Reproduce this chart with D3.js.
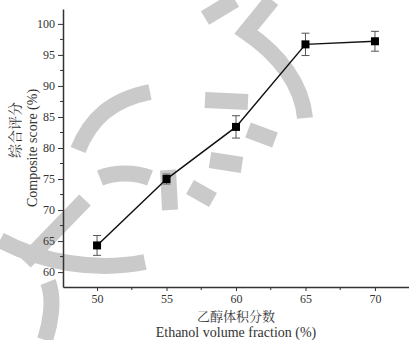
<!DOCTYPE html>
<html>
<head>
<meta charset="utf-8">
<script src="https://cdn.jsdelivr.net/npm/d3@7"></script>
<style>
  body { margin: 0; background: #fff; }
  svg { display: block; }
</style>
</head>
<body>
<svg width="409" height="340"></svg>
<script>
const width = 409, height = 340;
const serif = "'Liberation Serif', 'Times New Roman', 'DejaVu Serif', serif";
const cjk = "'Noto Serif CJK SC', 'Noto Sans CJK SC', sans-serif";

// data
const ethanol = [50, 55, 60, 65, 70];
const score = [64.3, 75.0, 83.4, 96.7, 97.2];
const scoreErr = [1.6, 0.8, 1.8, 1.8, 1.6];
const xTicks = [50, 55, 60, 65, 70];
const yTicks = [60, 65, 70, 75, 80, 85, 90, 95, 100];

const svg = d3.select("svg");

// light grey watermark strokes behind the chart (decoration only)
const wm = svg.append("g")
    .attr("fill", "none")
    .attr("stroke", "#cacaca")
    .attr("stroke-width", 16);
[
    "M78,150 C90,120 110,100 150,92",
    "M100,178 C115,172 135,172 150,178",
    "M85,200 L25,262",
    "M0,240 C40,262 95,272 145,262",
    "M48,282 C55,300 50,325 45,340",
    "M272,0 L246,32 C280,55 302,85 305,118",
    "M205,100 L248,102",
    "M205,18 L235,0",
    "M168,170 L170,210",
    "M190,187 L213,200",
    "M248,130 L275,140",
    "M210,160 L242,165"
].forEach(d => wm.append("path").attr("d", d));

const x = d3.scaleLinear().domain([47.55, 72.45]).range([63, 409]);
const y = d3.scaleLinear().domain([57.6, 102.4]).range([287, 9]);

// minor ticks
const xMinor = d3.range(47.5, 72.5, 2.5).filter(v => v > 47.55 && !xTicks.includes(v));
const yMinor = d3.range(57.5, 102.5, 2.5).filter(v => v > 57.6 && !yTicks.includes(v));

const xAxis = svg.append("g")
    .attr("transform", `translate(0,287)`)
    .call(d3.axisBottom(x).tickValues(xTicks).tickSize(4).tickPadding(3).tickSizeOuter(0));
svg.append("g")
    .attr("transform", `translate(0,287)`)
    .selectAll("line").data(xMinor).join("line")
    .attr("x1", d => x(d)).attr("x2", d => x(d))
    .attr("y1", 0).attr("y2", 3)
    .attr("stroke", "#333");

const yAxis = svg.append("g")
    .attr("transform", `translate(63,0)`)
    .call(d3.axisLeft(y).tickValues(yTicks).tickSize(5).tickPadding(3).tickSizeOuter(0));
svg.append("g")
    .attr("transform", `translate(63,0)`)
    .selectAll("line").data(yMinor).join("line")
    .attr("x1", 0).attr("x2", -3)
    .attr("y1", d => y(d)).attr("y2", d => y(d))
    .attr("stroke", "#333");

[xAxis, yAxis].forEach(a => {
    a.attr("font-family", serif).attr("font-size", 12);
    a.select(".domain").attr("stroke", "#333").attr("stroke-width", 1.5);
    a.selectAll(".tick line").attr("stroke", "#333");
    a.selectAll(".tick text").attr("fill", "#333");
});

// connecting line
const pts = ethanol.map((e, i) => ({ e, s: score[i], err: scoreErr[i] }));
svg.append("path")
    .datum(pts)
    .attr("fill", "none")
    .attr("stroke", "#111")
    .attr("stroke-width", 1.5)
    .attr("d", d3.line().x(d => x(d.e)).y(d => y(d.s)));

// error bars
const eb = svg.append("g").attr("stroke", "#555").attr("stroke-width", 1);
eb.selectAll(".v").data(pts).join("line")
    .attr("x1", d => x(d.e)).attr("x2", d => x(d.e))
    .attr("y1", d => y(d.s - d.err)).attr("y2", d => y(d.s + d.err));
eb.selectAll(".t").data(pts).join("line")
    .attr("x1", d => x(d.e) - 4).attr("x2", d => x(d.e) + 4)
    .attr("y1", d => y(d.s + d.err)).attr("y2", d => y(d.s + d.err));
eb.selectAll(".b").data(pts).join("line")
    .attr("x1", d => x(d.e) - 4).attr("x2", d => x(d.e) + 4)
    .attr("y1", d => y(d.s - d.err)).attr("y2", d => y(d.s - d.err));

// square markers
svg.selectAll(".pt").data(pts).join("rect")
    .attr("x", d => x(d.e) - 4).attr("y", d => y(d.s) - 4)
    .attr("width", 8).attr("height", 8)
    .attr("fill", "#000");

// axis titles
svg.append("text")
    .attr("x", 236).attr("y", 321)
    .attr("text-anchor", "middle")
    .attr("font-family", cjk).attr("font-size", 13).attr("fill", "#333")
    .text("乙醇体积分数");
svg.append("text")
    .attr("x", 236).attr("y", 337)
    .attr("text-anchor", "middle")
    .attr("font-family", serif).attr("font-size", 14).attr("fill", "#333")
    .text("Ethanol volume fraction (%)");

svg.append("text")
    .attr("transform", "translate(20,130) rotate(-90)")
    .attr("text-anchor", "middle")
    .attr("font-family", cjk).attr("font-size", 14).attr("fill", "#333")
    .text("综合评分");
svg.append("text")
    .attr("transform", "translate(37,148) rotate(-90)")
    .attr("text-anchor", "middle")
    .attr("font-family", serif).attr("font-size", 14).attr("fill", "#333")
    .text("Composite score (%)");
</script>
</body>
</html>
